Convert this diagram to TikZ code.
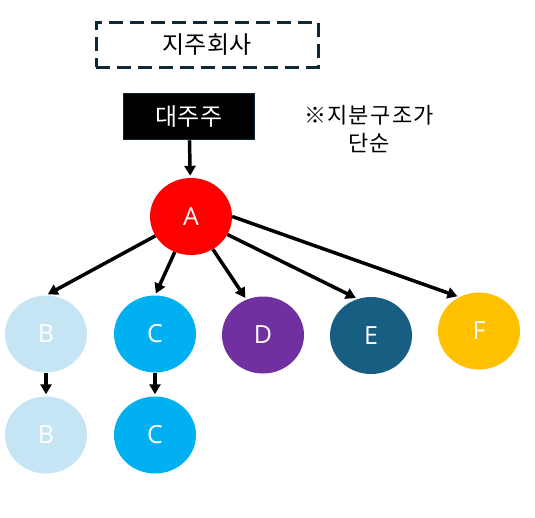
\documentclass[tikz,border=0pt]{standalone}
\usepackage{fontspec}
\setmainfont{Open Sans}
\newfontfamily\kr{Noto Sans CJK KR}
\newfontfamily\krsp[LetterSpace=6]{Noto Sans CJK KR}
\usetikzlibrary{arrows.meta,shapes.geometric}
\definecolor{navy}{HTML}{0E2838}
\definecolor{cB}{HTML}{C5E5F5}
\definecolor{cC}{HTML}{00B0F0}
\definecolor{cD}{HTML}{7030A0}
\definecolor{cE}{HTML}{175E82}
\definecolor{cF}{HTML}{FFC000}
\definecolor{cA}{HTML}{FF0000}
\tikzset{
  circ/.style={ellipse, minimum width=82pt, minimum height=77pt, inner sep=0pt, text=white, font=\fontsize{25}{28}\selectfont},
  arr/.style={line width=3.5pt, -{Triangle[length=10pt,width=11pt]}, shorten >=2pt},
}
\begin{document}
\begin{tikzpicture}[x=1pt,y=-1pt]
\useasboundingbox (0,0) rectangle (535,517);
\node[draw=navy, line width=3pt, dash pattern=on 14pt off 7pt, minimum width=222pt, minimum height=45pt, inner sep=0pt, font=\kr\fontsize{24}{28}\selectfont] (hold) at (207,44.5) {지주회사};
\node[draw=navy, fill=black, line width=1.5pt, minimum width=131pt, minimum height=46pt, inner sep=0pt, text=white, font=\kr\fontsize{24}{28}\selectfont] (major) at (189,116.5) {대주주};
\node[align=center, font=\krsp\fontsize{22}{28}\selectfont] (note) at (369,129) {※지분구조가\\단순};
\node[circ, fill=cA] (A) at (191,216.5) {A};
\node[circ, fill=cB] (B) at (46,334) {B};
\node[circ, fill=cC] (C) at (155,334) {C};
\node[circ, fill=cD] (D) at (263,335) {D};
\node[circ, fill=cE] (E) at (371,335.5) {E};
\node[circ, fill=cF] (F) at (479,331) {F};
\node[circ, fill=cB] (B2) at (46,435) {B};
\node[circ, fill=cC] (C2) at (155,435) {C};
\draw[arr] (major) -- (A);
\draw[arr] (A) -- (B.north);
\draw[arr] (A) -- (C.north);
\draw[arr] (A) -- (D.115);
\draw[arr] (A) -- (E.110);
\draw[arr] (A.east) -- (F.120);
\draw[arr] (B) -- (B2);
\draw[arr] (C) -- (C2);
\end{tikzpicture}
\end{document}
